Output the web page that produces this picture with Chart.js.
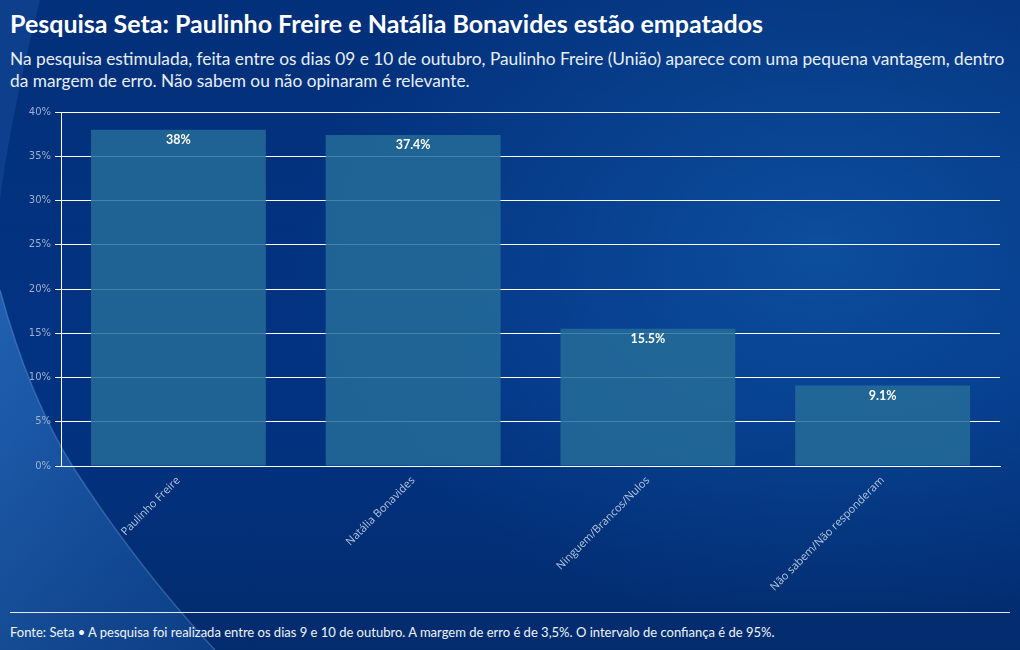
<!DOCTYPE html>
<html>
<head>
<meta charset="utf-8">
<script src="https://cdn.jsdelivr.net/npm/chart.js@4/dist/chart.umd.min.js"></script>
<style>
  html, body { margin:0; padding:0; }
  body {
    width:1020px; height:650px; overflow:hidden; position:relative;
    background:
      radial-gradient(ellipse 700px 500px at 820px 250px, rgba(20,100,180,0.55), rgba(20,100,180,0) 75%),
      linear-gradient(180deg, #03307a 0%, #023383 60%, #032c6e 100%);
    font-family: "Lato", "Open Sans", sans-serif;
  }
  #deco { position:absolute; left:0; top:0; }
  #title { position:absolute; left:10px; top:8px; color:#fff; font-weight:700; font-size:25px; white-space:nowrap; }
  #sub { position:absolute; left:10px; top:48px; width:1000px; color:#e8eef8; font-size:17.3px; line-height:22px; }
  #wrap { position:absolute; left:0; top:100px; width:1020px; height:505px; }
  #rule { position:absolute; left:10px; top:612px; width:1000px; height:1px; background:#e0e8f4; }
  #foot { position:absolute; left:10px; top:624px; color:#f0f4fa; font-size:13px; white-space:nowrap; }
</style>
</head>
<body>
<svg id="deco" width="1020" height="650">
  <defs>
    <linearGradient id="sw" x1="0" y1="0" x2="1" y2="1">
      <stop offset="0" stop-color="#3a86d4" stop-opacity="0.55"/>
      <stop offset="1" stop-color="#1d5fb0" stop-opacity="0.35"/>
    </linearGradient>
  </defs>
  <path d="M0,290 Q30,400 75,470 Q140,570 215,650 L0,650 Z" fill="url(#sw)"/>
  <path d="M0,290 Q30,400 75,470 Q140,570 215,650" fill="none" stroke="#6fa8e6" stroke-opacity="0.35" stroke-width="1.5"/>
  <path d="M0,0 L40,0 Q10,120 0,200 Z" fill="#2a6cc0" fill-opacity="0.25"/>
</svg>
<div id="title">Pesquisa Seta: Paulinho Freire e Natália Bonavides estão empatados</div>
<div id="sub">Na pesquisa estimulada, feita entre os dias 09 e 10 de outubro, Paulinho Freire (União) aparece com uma pequena vantagem, dentro da margem de erro. Não sabem ou não opinaram é relevante.</div>
<div id="wrap"><canvas id="c"></canvas></div>
<div id="rule"></div>
<div id="foot">Fonte: Seta • A pesquisa foi realizada entre os dias 9 e 10 de outubro. A margem de erro é de 3,5%. O intervalo de confiança é de 95%.</div>
<script>
const categories = ["Paulinho Freire", "Natália Bonavides", "Ninguem/Brancos/Nulos", "Não sabem/Não responderam"];
const values = [38, 37.4, 15.5, 9.1];
const yTicks = [0, 5, 10, 15, 20, 25, 30, 35, 40];

const labelPlugin = {
  id: 'barLabels',
  afterDatasetsDraw(chart) {
    const ctx = chart.ctx;
    const meta = chart.getDatasetMeta(0);
    ctx.save();
    ctx.fillStyle = '#ffffff';
    ctx.font = 'bold 12.5px "Lato", "Open Sans", sans-serif';
    ctx.textAlign = 'center';
    ctx.textBaseline = 'top';
    meta.data.forEach((bar, i) => {
      ctx.fillText(values[i] + '%', bar.x, bar.y + 4);
    });
    ctx.restore();
  }
};

new Chart(document.getElementById('c'), {
  type: 'bar',
  data: {
    labels: categories,
    datasets: [{
      data: values,
      backgroundColor: 'rgba(36,108,152,0.85)',
      borderWidth: 0,
      barPercentage: 0.745,
      categoryPercentage: 1.0
    }]
  },
  options: {
    responsive: true,
    maintainAspectRatio: false,
    animation: false,
    layout: { padding: { top: 12, right: 20, left: 0, bottom: 0 } },
    plugins: { legend: { display: false }, tooltip: { enabled: false } },
    scales: {
      x: {
        afterFit(s) { s.height = 139; },
        grid: { display: false, drawOnChartArea: false, drawTicks: true, tickLength: 6, color: '#ffffff' },
        border: { display: true, color: '#ffffff', width: 1 },
        ticks: {
          color: '#b4c4dc',
          font: { family: '"Open Sans", sans-serif', size: 11 },
          maxRotation: 45, minRotation: 45, padding: 2
        }
      },
      y: {
        min: 0, max: 40,
        afterFit(s) { s.width = 61; },
        afterBuildTicks(s) { s.ticks = yTicks.map(v => ({ value: v })); },
        grid: { color: '#ffffff', lineWidth: 1, tickLength: 6 },
        border: { display: true, color: '#ffffff', width: 1 },
        ticks: {
          color: '#9fb0cc',
          font: { family: '"DejaVu Sans", sans-serif', size: 10 },
          padding: 4,
          callback: v => v + '%'
        }
      }
    }
  },
  plugins: [labelPlugin]
});
</script>
</body>
</html>
